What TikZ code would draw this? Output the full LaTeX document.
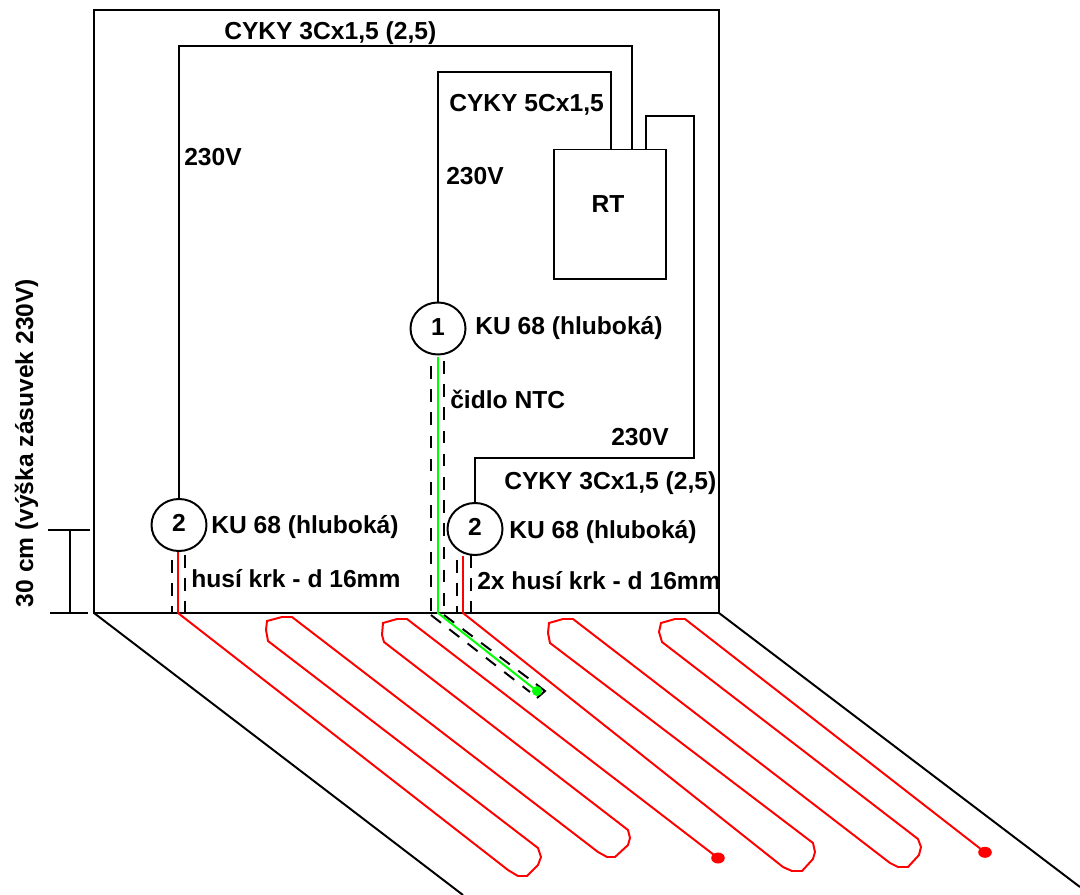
\documentclass[tikz,border=0pt]{standalone}
\usepackage{fontspec}
\setmainfont{Liberation Sans}
\usetikzlibrary{shapes.geometric}
\definecolor{topeni}{rgb}{1,0,0}
\definecolor{cidlo}{rgb}{0,1,0}
\tikzset{
    popis/.style={anchor=base west, inner sep=0pt, font=\fontsize{17.5}{20}\selectfont\bfseries},
    krabice/.style={draw=black, ellipse, line width=1.4pt, minimum width=1.375cm, minimum height=1.3cm, inner sep=0pt, text depth=2.5pt, font=\fontsize{17.5}{20}\selectfont\bfseries},
    kabel/.style={black, line width=1.4pt},
    husi/.style={black, line width=1.4pt, dash pattern=on 9pt off 7.5pt},
    had/.style={topeni, line width=1.4pt}
}

\begin{document}
\begin{tikzpicture}[x=0.025cm, y=-0.025cm]
    \useasboundingbox (0,0) rectangle (1080,895);

    \coordinate (rohL) at (94,613);
    \coordinate (rohR) at (719,613);
    \coordinate (podlahaL) at (463,895);
    \coordinate (podlahaR) at (1080,887);
    \coordinate (kotaH) at (70,530);
    \coordinate (kotaD) at (70,613);

    \draw[kabel] (94,10) rectangle (rohR);
    \draw[kabel] (rohL) -- (podlahaL);
    \draw[kabel] (rohR) -- (podlahaR);

    \draw[kabel] (48,530) -- (90,530);
    \draw[kabel] (50,613) -- (88,613);
    \draw[kabel] (kotaH) -- (kotaD);

    \node[draw=black, line width=1.4pt, minimum width=2.8cm, minimum height=3.225cm, inner sep=0pt] (rt) at (610,214) {};
    \node[inner sep=0pt, font=\fontsize{17.5}{20}\selectfont\bfseries] (rtText) at (608,204) {RT};
    \node[krabice] (kuA) at (438,328.5) {1};
    \node[krabice] (kuB) at (179,525) {2};
    \node[krabice] (kuC) at (475,529) {2};

    \coordinate (rtA) at (611,149);
    \coordinate (rtB) at (632,149);
    \coordinate (rtC) at (646,149);

    \draw[kabel] (kuB.north) |- (632,46) -- (rtB);
    \draw[kabel] (kuA.north) |- (611,72) -- (rtA);
    \draw[kabel] (rtC) -- (646,116) -- (694,116) -- (694,458) -| (kuC.north);

    \draw[husi] (172,560) -- (172,613);
    \draw[husi] (185,555) -- (185,613);
    \draw[husi] (431,366) -- (431,613);
    \draw[husi] (444,361) -- (444,613);
    \draw[husi] (457,560) -- (457,613);
    \draw[husi] (471,555) -- (471,613);
    \draw[husi] (431,615) -- (530,692);
    \draw[husi] (444,615) -- (536,684);
    \draw[kabel] (536,684) -- (545,691) -- (537,698);

    \coordinate (startA) at (178,613);
    \coordinate (startB) at (463,613);
    \coordinate (konecA) at (718,858);
    \coordinate (konecB) at (985,852.3);

    \draw[had] (kuB.south -| startA) -- (startA);
    \draw[had] (kuC.south -| startB) -- (startB);
    \draw[had] (startA) -- (508,870) -- (518,876) -- (527,876) -- (538,865) -- (541,857) -- (538,848)
        -- (268,641) -- (266,630) -- (267,621) -- (282,617) -- (292,617)
        -- (598,852) -- (607,857) -- (615,857) -- (628,845) -- (630,838) -- (628,830)
        -- (384,642) -- (382,635) -- (383,623) -- (397,619) -- (407,619) -- (konecA);
    \draw[had] (startB) -- (783,867) -- (792,871) -- (802,871) -- (813,859) -- (815,852) -- (813,843)
        -- (550,643) -- (548,633) -- (549,623) -- (563,619) -- (573,619)
        -- (890,863) -- (898,867) -- (908,867) -- (919,855) -- (921,847) -- (918,839)
        -- (662,642) -- (659,632) -- (661,623) -- (675,619) -- (685,619) -- (konecB);
    \fill[topeni] (konecA) ellipse (6.8 and 5.5);
    \fill[topeni] (konecB) ellipse (6.8 and 5.5);

    \coordinate (cidloZ) at (438,357);
    \coordinate (cidloR) at (438,613);
    \coordinate (cidloK) at (537,691);
    \draw[cidlo, line width=1.4pt] (cidloZ) -- (cidloR) -- (cidloK);
    \filldraw[cidlo] (cidloK) circle (4.7);

    \node[popis] (popisA) at (224,39.5) {CYKY 3Cx1,5 (2,5)};
    \node[popis] (popisB) at (184,165.5) {230V};
    \node[popis] (popisC) at (449,111) {CYKY 5Cx1,5};
    \node[popis] (popisD) at (446,184.5) {230V};
    \node[popis] (popisE) at (475,334.5) {KU 68 (hluboká)};
    \node[popis] (popisF) at (450,408) {čidlo NTC};
    \node[popis] (popisG) at (611,445) {230V};
    \node[popis] (popisH) at (504,489.5) {CYKY 3Cx1,5 (2,5)};
    \node[popis] (popisI) at (211,533.5) {KU 68 (hluboká)};
    \node[popis] (popisJ) at (509,538.5) {KU 68 (hluboká)};
    \node[popis] (popisK) at (191,587.5) {husí krk - d 16mm};
    \node[popis] (popisL) at (477,589.5) {2x husí krk - d 16mm};
    \node[popis, anchor=base, rotate=90] (popisM) at (33,443) {30 cm (výška zásuvek 230V)};
\end{tikzpicture}
\end{document}
